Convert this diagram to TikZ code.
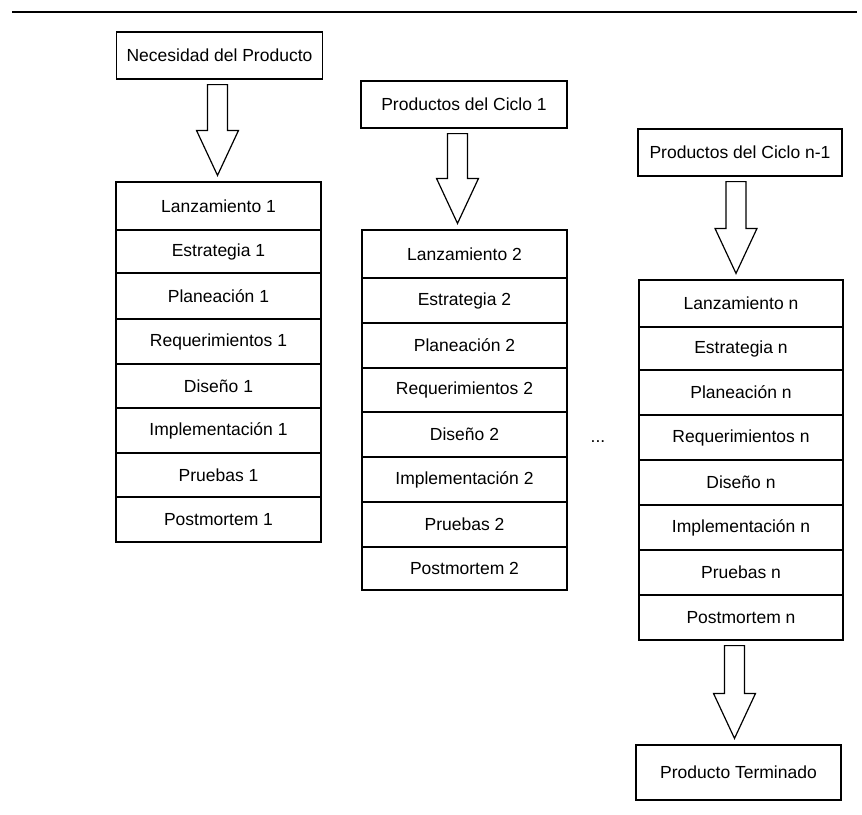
\documentclass[tikz,border=0pt]{standalone}
\usepackage{fontspec}
\setmainfont{Liberation Sans}
\usetikzlibrary{calc}

\tikzset{
  cell/.style={draw, line width=1.2pt, inner sep=0pt, minimum width=205pt,
               font=\fontsize{17.5}{20}\selectfont},
  fatarrow/.style={draw, line width=1.2pt, line join=miter, fill=white},
  rule/.style={line width=1.5pt},
}

% Hollow block arrow from the bottom of one node to the top of another.
% #1 source node, #2 target node, #3 shift of the arrow axis (pt)
\newcommand{\blockarrow}[3]{%
  \draw[fatarrow] let \p1=(#1.south), \p2=(#2.north) in
    (\x2+#3pt-10pt,\y1-5pt) -- (\x2+#3pt+10pt,\y1-5pt)
    -- (\x2+#3pt+10pt,\y2+51pt) -- (\x2+#3pt+21pt,\y2+51pt)
    -- (\x2+#3pt,\y2+6pt)
    -- (\x2+#3pt-21pt,\y2+51pt) -- (\x2+#3pt-10pt,\y2+51pt) -- cycle;
}

\begin{document}
\begin{tikzpicture}[x=1pt,y=-1pt]
\useasboundingbox (0,0) rectangle (862,814);

% header rule
\draw[rule] (12,12) -- (857,12);

% inputs and output
\node[cell, minimum width=206pt, minimum height=47pt] (need) at (219.5,55.5) {Necesidad del Producto};
\node[cell, minimum width=206pt, minimum height=47pt] (prod1) at (464,104.5) {Productos del Ciclo 1};
\node[cell, minimum width=204pt, minimum height=47pt] (prodn) at (740,152.5) {Productos del Ciclo n-1};
\node[cell, minimum width=205pt, minimum height=55pt] (done) at (738.5,772.5) {Producto Terminado};

% cycle 1
\node[cell, minimum height=48pt] (l1) at (218.5,206)   {Lanzamiento 1};
\node[cell, minimum height=43pt] (e1) at (218.5,251.5) {Estrategia 1};
\node[cell, minimum height=46pt] (p1) at (218.5,296)   {Planeación 1};
\node[cell, minimum height=45pt] (r1) at (218.5,341.5) {Requerimientos 1};
\node[cell, minimum height=44pt] (d1) at (218.5,386)   {Diseño 1};
\node[cell, minimum height=45pt] (i1) at (218.5,430.5) {Implementación 1};
\node[cell, minimum height=44pt] (t1) at (218.5,475)   {Pruebas 1};
\node[cell, minimum height=45pt] (m1) at (218.5,519.5) {Postmortem 1};

% cycle 2
\node[cell, minimum height=48pt] (l2) at (464.5,254)   {Lanzamiento 2};
\node[cell, minimum height=45pt] (e2) at (464.5,300.5) {Estrategia 2};
\node[cell, minimum height=45pt] (p2) at (464.5,345.5) {Planeación 2};
\node[cell, minimum height=44pt] (r2) at (464.5,390)   {Requerimientos 2};
\node[cell, minimum height=45pt] (d2) at (464.5,434.5) {Diseño 2};
\node[cell, minimum height=45pt] (i2) at (464.5,479.5) {Implementación 2};
\node[cell, minimum height=45pt] (t2) at (464.5,524.5) {Pruebas 2};
\node[cell, minimum height=43pt] (m2) at (464.5,568.5) {Postmortem 2};

% cycle n
\node[cell, minimum width=204pt, minimum height=47pt] (ln) at (741,303.5) {Lanzamiento n};
\node[cell, minimum width=204pt, minimum height=43pt] (en) at (741,348.5) {Estrategia n};
\node[cell, minimum width=204pt, minimum height=45pt] (pn) at (741,392.5) {Planeación n};
\node[cell, minimum width=204pt, minimum height=45pt] (rn) at (741,437.5) {Requerimientos n};
\node[cell, minimum width=204pt, minimum height=45pt] (dn) at (741,482.5) {Diseño n};
\node[cell, minimum width=204pt, minimum height=45pt] (in) at (741,527.5) {Implementación n};
\node[cell, minimum width=204pt, minimum height=45pt] (tn) at (741,572.5) {Pruebas n};
\node[cell, minimum width=204pt, minimum height=45pt] (mn) at (741,617.5) {Postmortem n};

% ellipsis between cycles
\node[font=\fontsize{17.5}{20}\selectfont, anchor=base, inner sep=0pt] (gap) at (598,442) {...};

% flow arrows
\blockarrow{need}{l1}{-1}
\blockarrow{prod1}{l2}{-7}
\blockarrow{prodn}{ln}{-5}
\blockarrow{mn}{done}{-4}
\end{tikzpicture}
\end{document}
